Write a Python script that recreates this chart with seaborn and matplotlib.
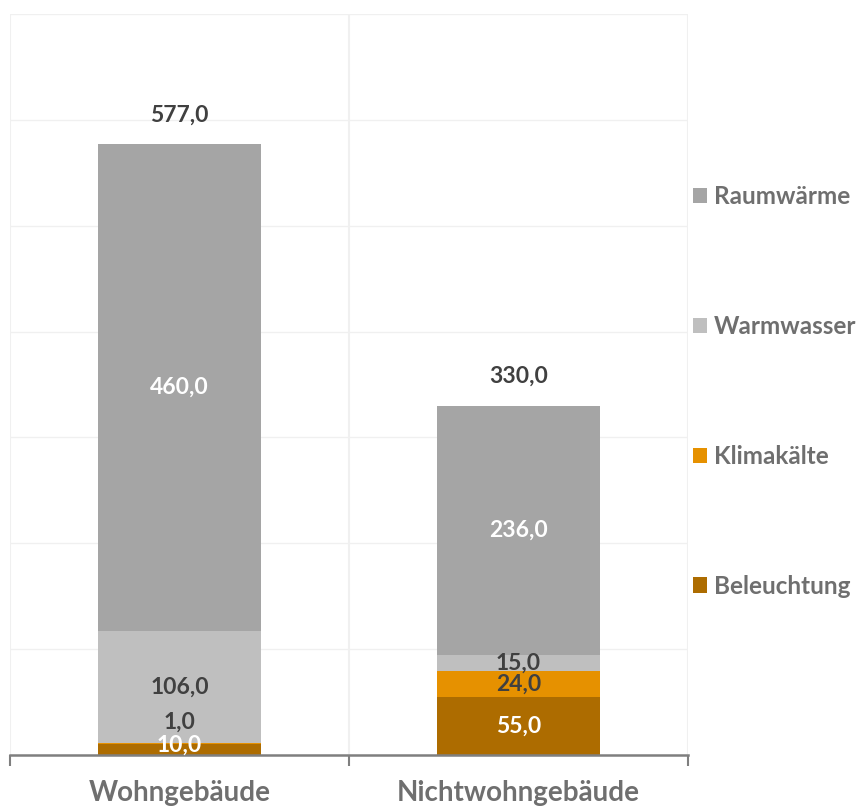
import numpy as np
import pandas as pd
import matplotlib
matplotlib.use("Agg")
import matplotlib.pyplot as plt
import seaborn as sns

# data
gebaeude = ["Wohngebäude", "Nichtwohngebäude"]
beleuchtung = [10.0, 55.0]
klimakaelte = [1.0, 24.0]
warmwasser = [106.0, 15.0]
raumwaerme = [460.0, 236.0]

serien = ["Beleuchtung", "Klimakälte", "Warmwasser", "Raumwärme"]
farben = ["#AD6C00", "#E69100", "#BFBFBF", "#A5A5A5"]
label_farben = ["white", "#404040", "#404040", "white"]

sns.set_theme(style="white")
plt.rcParams["font.family"] = ["Lato", "DejaVu Sans"]
plt.rcParams["font.weight"] = "bold"

df = pd.DataFrame({
    "Gebaeude": gebaeude,
    "Beleuchtung": beleuchtung,
    "Klimakälte": klimakaelte,
    "Warmwasser": warmwasser,
    "Raumwärme": raumwaerme,
})

fig = plt.figure(figsize=(8.58, 8.08), dpi=100)
ax = fig.add_axes([0.0117, 0.0656, 0.79, 0.917])

bottom = np.zeros(len(df))
containers = []
for s, c in zip(serien, farben):
    sns.barplot(data=df, x="Gebaeude", y=s, color=c, bottom=bottom,
                width=0.48, ax=ax, label=s, saturation=1, linewidth=0)
    containers.append(ax.containers[-1])
    bottom = bottom + df[s].to_numpy()

# segment labels (Excel nudges the tiny ones a bit)
nudge = {("Klimakälte", 0): 22, ("Beleuchtung", 0): 4}
for s, cont, lc in zip(serien, containers, label_farben):
    for i, rect in enumerate(cont.patches):
        v = df[s].iloc[i]
        y = rect.get_y() + rect.get_height() / 2
        ax.annotate(f"{v:.1f}".replace(".", ","),
                    (rect.get_x() + rect.get_width() / 2, y),
                    xytext=(0, nudge.get((s, i), 0) * 0.72), textcoords="offset points",
                    ha="center", va="center", fontsize=16.5, fontweight="bold", color=lc)

# totals above the bars
for i, tot in enumerate(bottom):
    ax.annotate(f"{tot:.1f}".replace(".", ","), (i, tot), xytext=(0, 21),
                textcoords="offset points", ha="center", va="center",
                fontsize=16.5, fontweight="bold", color="#404040")

ax.set_ylim(0, 700)
ax.set_xlim(-0.5, 1.5)
ax.set_yticks(np.arange(0, 701, 100))
ax.set_yticklabels([])
ax.tick_params(axis="y", length=0)
ax.grid(axis="y", color="#F0F0F0", linewidth=1)
ax.set_xticks([-0.5, 0.5, 1.5], minor=True)
ax.grid(axis="x", which="minor", color="#F0F0F0", linewidth=1.5)
ax.tick_params(axis="x", which="major", length=0, pad=18, labelsize=20, labelcolor="#6F6F6F")
ax.tick_params(axis="x", which="minor", length=8, width=1.5, color="#7F7F7F", direction="out", bottom=True)
for t in ax.get_xticklabels():
    t.set_fontweight("bold")
ax.set_xlabel("")
ax.set_ylabel("")
for sp in ["top", "right", "left"]:
    ax.spines[sp].set_visible(False)
ax.spines["bottom"].set_color("#7F7F7F")
ax.spines["bottom"].set_linewidth(1.8)
ax.set_axisbelow(True)

h, l = ax.get_legend_handles_labels()
leg = ax.legend(h[::-1], l[::-1], loc="center left", bbox_to_anchor=(1.007, 0.491),
                frameon=False, fontsize=17.5, labelspacing=4.4, handlelength=0.58,
                handleheight=0.58, handletextpad=0.3, borderaxespad=0, borderpad=0)
for t in leg.get_texts():
    t.set_color("#6F6F6F")
    t.set_fontweight("bold")

fig.savefig("out.png", dpi=100)
